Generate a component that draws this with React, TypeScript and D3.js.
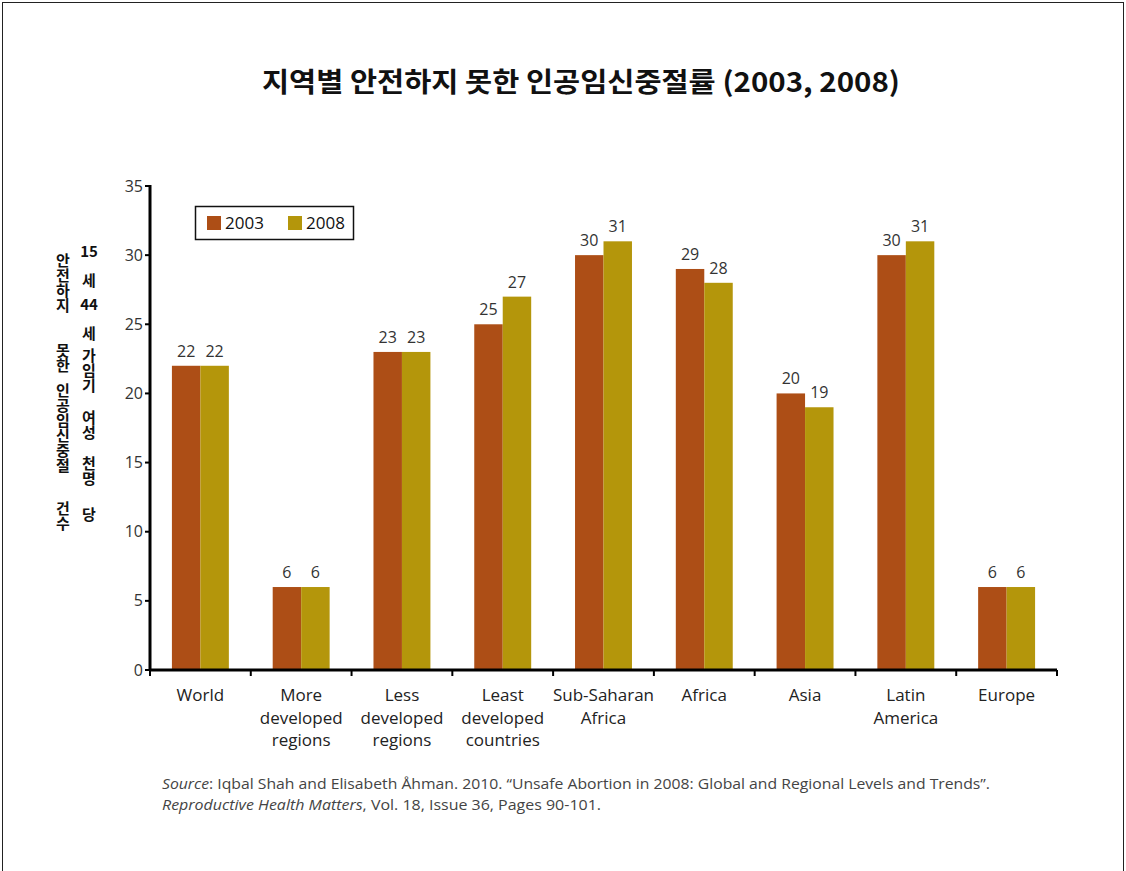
import React from 'react';
import * as d3 from 'd3';

const regions = [
  'World',
  'More\ndeveloped\nregions',
  'Less\ndeveloped\nregions',
  'Least\ndeveloped\ncountries',
  'Sub-Saharan\nAfrica',
  'Africa',
  'Asia',
  'Latin\nAmerica',
  'Europe',
];
const years = ['2003', '2008'];
const rate2003 = [22, 6, 23, 25, 30, 29, 20, 30, 6];
const rate2008 = [22, 6, 23, 27, 31, 28, 19, 31, 6];
const yTicks = [0, 5, 10, 15, 20, 25, 30, 35];
const colors = ['#AD4E16', '#B4960B'];

const title = '지역별 안전하지 못한 인공임신중절률 (2003, 2008)';
// y label, two columns of vertical text (word groups)
const yLabel1 = ['안전하지', '못한', '인공임신중절', '건수'];
const yLabel2 = ['15', '세', '44', '세', '가임기', '여성', '천명', '당'];

const W = 1126;
const H = 871;
const left = 150;
const right = 1057;
const top = 186;
const bottom = 670;

export default function App() {
  const series = [rate2003, rate2008];

  const x = d3.scaleBand<string>()
    .domain(regions)
    .range([left, right])
    .paddingInner(0.435)
    .paddingOuter(0.2175);

  const xs = d3.scaleBand<string>()
    .domain(years)
    .range([0, x.bandwidth()]);

  const y = d3.scaleLinear().domain([0, 35]).range([bottom, top]);

  const step = x.step();
  const font = "'Open Sans', 'Noto Sans', sans-serif";
  const kfont = "'Noto Sans CJK KR', sans-serif";

  // centre of the first glyph of each group
  const col1Y = [260, 350, 390, 508];
  const col2Y = [252, 280, 305, 333, 355, 417, 463, 514];
  const vStyle: React.CSSProperties = { writingMode: 'vertical-rl', textOrientation: 'upright' } as any;

  return (
    <div style={{ position: 'absolute', left: 0, top: 0 }}>
      <svg width={W} height={H} style={{ display: 'block', background: '#fff' }}>
        <rect x={2.5} y={2.5} width={1121} height={H + 10} fill="none" stroke="#222" strokeWidth={1} />

        <text x={581} y={92} textAnchor="middle" fontFamily={kfont} fontWeight={700} fontSize={27} fill="#111"
          textLength={638} lengthAdjust="spacingAndGlyphs">
          {title}
        </text>

        {/* y axis label */}
        {yLabel1.map((t, i) => (
          <text key={'a' + i} x={63} y={col1Y[i] - 7.5} style={vStyle} fontFamily={kfont} fontWeight={700} fontSize={15} fill="#111">{t}</text>
        ))}
        {yLabel2.map((t, i) => /\d/.test(t) ? (
          <text key={'b' + i} x={89} y={col2Y[i]} dy="0.35em" textAnchor="middle" fontFamily={kfont} fontWeight={700} fontSize={15} fill="#111">{t}</text>
        ) : (
          <text key={'b' + i} x={89} y={col2Y[i] - 7.5} style={vStyle} fontFamily={kfont} fontWeight={700} fontSize={15} fill="#111">{t}</text>
        ))}

        {/* bars */}
        {regions.map((r, i) => (
          <g key={r} transform={`translate(${x(r)},0)`}>
            {series.map((s, j) => (
              <g key={j}>
                <rect
                  x={xs(years[j])}
                  y={y(s[i])}
                  width={xs.bandwidth()}
                  height={y(0) - y(s[i])}
                  fill={colors[j]}
                />
                <text
                  x={(xs(years[j]) || 0) + xs.bandwidth() / 2}
                  y={y(s[i]) - 9}
                  textAnchor="middle"
                  fontFamily={font}
                  fontSize={16}
                  fill="#333"
                >
                  {s[i]}
                </text>
              </g>
            ))}
          </g>
        ))}

        {/* y axis */}
        <line x1={left} x2={left} y1={top - 1} y2={bottom + 1} stroke="#000" strokeWidth={3} />
        {yTicks.map((t) => (
          <g key={t}>
            <line x1={left - 5} x2={left} y1={y(t)} y2={y(t)} stroke="#000" strokeWidth={2} />
            <text x={left - 7} y={y(t)} dy="0.35em" textAnchor="end" fontFamily={font} fontSize={16} fill="#333">{t}</text>
          </g>
        ))}

        {/* x axis */}
        <line x1={left - 1} x2={right} y1={bottom} y2={bottom} stroke="#000" strokeWidth={3} />
        {d3.range(regions.length + 1).map((k) => (
          <line key={k} x1={left + k * step} x2={left + k * step} y1={bottom} y2={bottom + 6} stroke="#000" strokeWidth={2} />
        ))}
        {regions.map((r) => (
          <text key={r} x={(x(r) || 0) + x.bandwidth() / 2} y={701} textAnchor="middle" fontFamily={font} fontSize={17} fill="#222">
            {r.split('\n').map((line, li) => (
              <tspan key={li} x={(x(r) || 0) + x.bandwidth() / 2} dy={li === 0 ? 0 : 22.5}>{line}</tspan>
            ))}
          </text>
        ))}

        {/* legend */}
        <rect x={195.5} y={206.5} width={158} height={33} fill="#fff" stroke="#111" strokeWidth={1.5} />
        {years.map((yr, j) => (
          <g key={yr} transform={`translate(${207 + j * 81},0)`}>
            <rect x={0} y={216} width={14} height={14} fill={colors[j]} />
            <text x={18} y={223} dy="0.35em" fontFamily={font} fontSize={17} fill="#111">{yr}</text>
          </g>
        ))}

        {/* source */}
        <text x={162} y={789} fontFamily={font} fontSize={14.5} fill="#444" textLength={828} lengthAdjust="spacingAndGlyphs">
          <tspan fontStyle="italic">Source</tspan>
          <tspan>: Iqbal Shah and Elisabeth Åhman. 2010. “Unsafe Abortion in 2008: Global and Regional Levels and Trends”.</tspan>
        </text>
        <text x={162} y={810} fontFamily={font} fontSize={14.5} fill="#444" textLength={439} lengthAdjust="spacingAndGlyphs">
          <tspan fontStyle="italic">Reproductive Health Matters</tspan>
          <tspan>, Vol. 18, Issue 36, Pages 90-101.</tspan>
        </text>
      </svg>
    </div>
  );
}
